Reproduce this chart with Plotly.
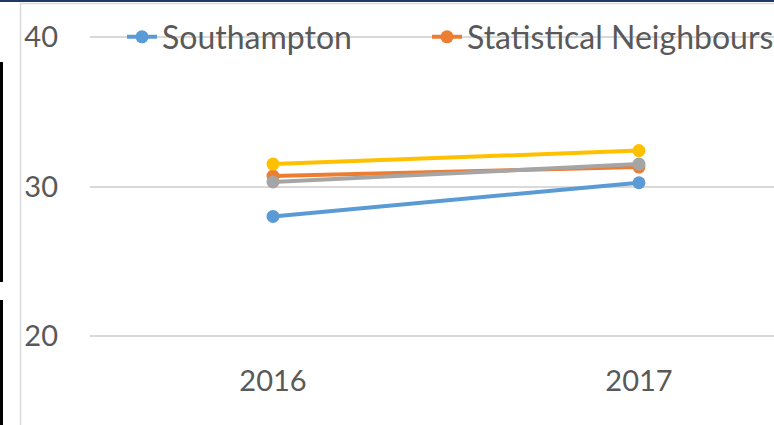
import plotly.graph_objects as go

years = ["2016", "2017"]
southampton = [28.0, 30.25]
stat_neighbours = [30.7, 31.3]
series_grey = [30.3, 31.5]
series_yellow = [31.5, 32.4]

W, H = 774, 425
ML, MR, MT, MB = 90, 0, 34, 86
PW, PH = W - ML - MR, H - MT - MB

def px(x):
    return (x - ML) / PW

def py(y):
    return (H - MB - y) / PH

fig = go.Figure()
specs = [
    ("Southampton", southampton, "#5B9BD5", True, "legend"),
    ("Statistical Neighbours", stat_neighbours, "#ED7D31", True, "legend2"),
    ("Series 3", series_grey, "#A5A5A5", False, "legend"),
    ("Series 4", series_yellow, "#FFC000", False, "legend"),
]
for name, vals, col, show, lg in specs:
    fig.add_trace(go.Scatter(
        x=years, y=vals, name=name, mode="lines+markers",
        line=dict(color=col, width=4),
        marker=dict(color=col, size=13),
        showlegend=show, legend=lg,
    ))

shapes = [
    dict(type="rect", xref="paper", yref="paper", x0=px(0), x1=px(W), y0=py(2), y1=py(0),
         fillcolor="#1F3864", line=dict(width=0), layer="above"),
    dict(type="line", xref="paper", yref="paper", x0=px(20), x1=px(W), y0=py(3.5), y1=py(3.5),
         line=dict(color="#D9D9D9", width=1.5)),
    dict(type="line", xref="paper", yref="paper", x0=px(20.5), x1=px(20.5), y0=py(3), y1=py(H),
         line=dict(color="#D9D9D9", width=1.5)),
    dict(type="rect", xref="paper", yref="paper", x0=px(0), x1=px(3), y0=py(282), y1=py(62),
         fillcolor="#000000", line=dict(width=0)),
    dict(type="rect", xref="paper", yref="paper", x0=px(0), x1=px(3), y0=py(H), y1=py(300),
         fillcolor="#000000", line=dict(width=0)),
]

legend_common = dict(orientation="h", yanchor="middle", xanchor="left",
                     bgcolor="rgba(0,0,0,0)", font=dict(size=32, color="#595959"),
                     itemwidth=30, tracegroupgap=0)

fig.update_layout(
    width=W, height=H,
    margin=dict(l=ML, r=MR, t=MT, b=MB, autoexpand=False),
    paper_bgcolor="white", plot_bgcolor="white",
    font=dict(family="Lato", size=29, color="#595959"),
    showlegend=True,
    legend=dict(x=px(122), y=py(37), **legend_common),
    legend2=dict(x=px(427), y=py(37), **legend_common),
    xaxis=dict(type="category", range=[-0.5, 1.369], showgrid=False, zeroline=False,
               showline=False, ticks="", ticklabelstandoff=22),
    yaxis=dict(range=[19.8, 40.2], tickvals=[20, 30, 40], showgrid=True, gridcolor="#D9D9D9",
               gridwidth=1.5, zeroline=False, showline=False, ticks="", ticklabelstandoff=31),
    shapes=shapes,
)

fig.write_html("out.html", config={"displayModeBar": False},
               post_script="document.body.style.margin='0px';")
